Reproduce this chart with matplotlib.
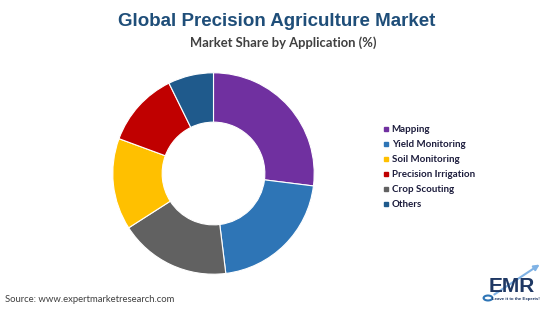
import matplotlib
matplotlib.use("Agg")
import matplotlib.pyplot as plt
from matplotlib.lines import Line2D

# Data (drawing order, clockwise from top)
pie_labels = ["Mapping", "Yield Monitoring", "Crop Scouting", "Soil Monitoring",
              "Precision Irrigation", "Others"]
pie_values = [27.0, 21.1, 17.9, 14.7, 12.1, 7.3]
legend_order = ["Mapping", "Yield Monitoring", "Soil Monitoring",
                "Precision Irrigation", "Crop Scouting", "Others"]
colors = {
    "Mapping": "#7030A0",
    "Yield Monitoring": "#2E75B6",
    "Soil Monitoring": "#FFC000",
    "Precision Irrigation": "#C00000",
    "Crop Scouting": "#616161",
    "Others": "#1F5A8C",
}

W, H = 550, 309
fig = plt.figure(figsize=(W / 100, H / 100), dpi=100)
fig.patch.set_facecolor("white")

cx, cy, r = 213.5, 173.5, 100.7
ax = fig.add_axes([(cx - r) / W, (H - cy - r) / H, 2 * r / W, 2 * r / H])
ax.pie(pie_values, colors=[colors[l] for l in pie_labels], startangle=90,
       counterclock=False, radius=1.0,
       wedgeprops=dict(width=0.49, edgecolor="white", linewidth=0.8))
ax.set_xlim(-1, 1)
ax.set_ylim(-1, 1)
ax.set_aspect("equal")
ax.axis("off")

fig.text(277 / W, 1 - 21 / H, "Global Precision Agriculture Market",
         ha="center", va="center", fontsize=13.5, fontweight="bold",
         color="#1F4E79", family="Liberation Sans")
fig.text(283 / W, 1 - 42.5 / H, "Market Share by Application (%)",
         ha="center", va="center", fontsize=9.4, fontweight="bold",
         color="#404040", family="Lato")

handles = [Line2D([0], [0], marker="s", linestyle="none", markersize=3.5,
                  markerfacecolor=colors[l], markeredgecolor=colors[l])
           for l in legend_order]
leg = fig.legend(handles, legend_order, loc="upper left",
                 bbox_to_anchor=(383 / W, 1 - 125 / H), frameon=False,
                 prop=dict(family="Lato", size=7, weight="bold"),
                 handlelength=0.6, handletextpad=0.3, labelspacing=0.62,
                 borderpad=0, borderaxespad=0)
for t in leg.get_texts():
    t.set_color("#1c1c3c")

fig.text(5 / W, 1 - 300 / H, "Source: www.expertmarketresearch.com",
         ha="left", va="center", fontsize=6.8, color="#404040", family="Lato")

# logo approximation
fig.text(512 / W, 1 - 287 / H, "EMR", ha="center", va="center", fontsize=15,
         fontweight="bold", color="#1F3864", family="Liberation Sans")
fig.text(516 / W, 1 - 299 / H, "Leave it to the Experts!", ha="center",
         va="center", fontsize=3.2, color="#1F3864", family="Liberation Sans",
         fontweight="bold")
fig.add_artist(matplotlib.patches.FancyArrowPatch(
    (492 / W, 1 - 296 / H), (542 / W, 1 - 263 / H), transform=fig.transFigure,
    arrowstyle="-|>", mutation_scale=8, color="#7FB2E5", lw=1.5, zorder=0))
fig.add_artist(matplotlib.patches.Circle((488 / W, 1 - 298 / H), 0.008,
               transform=fig.transFigure, fill=False, edgecolor="#2E75B6",
               lw=1.5))

fig.savefig("out.png", dpi=100)
